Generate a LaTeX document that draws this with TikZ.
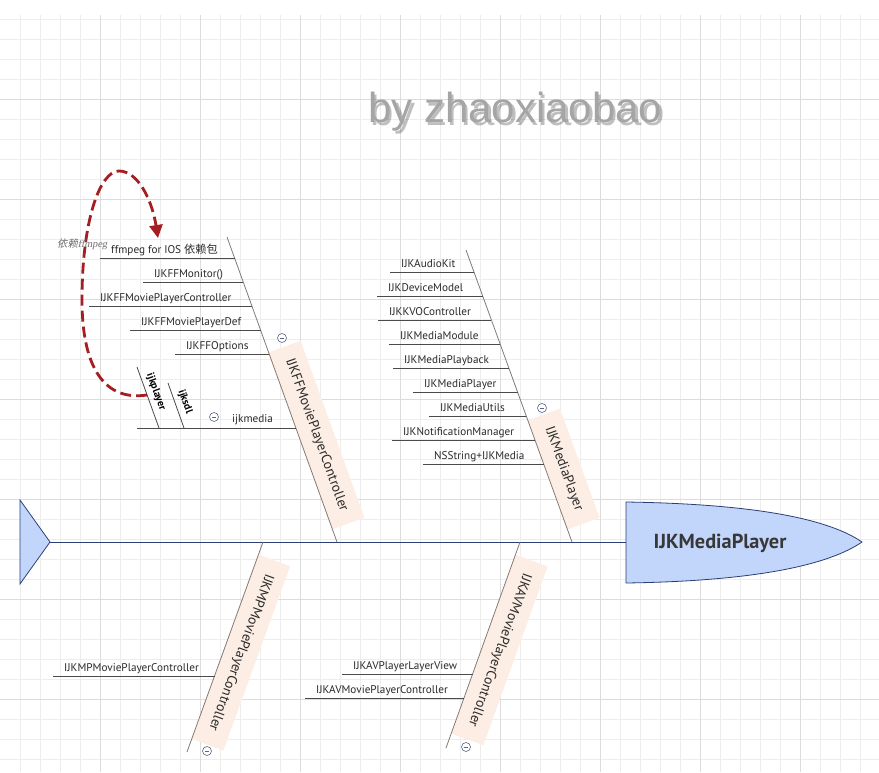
\documentclass[tikz,border=0pt]{standalone}
\usepackage{fontspec}
\setmainfont{PT Sans}
\newfontfamily\cjk{Noto Sans CJK SC}
\newfontfamily\cjksl[FakeSlant=0.2]{Noto Sans CJK SC}
\newfontfamily\wmfont{Liberation Sans}
\newfontfamily\serifit[FakeSlant=0.2]{Liberation Serif}
\usetikzlibrary{arrows.meta,calc}
\definecolor{gridminor}{HTML}{EDEDED}
\definecolor{gridmajor}{HTML}{DCDCDC}
\definecolor{navy}{HTML}{2B3F73}
\definecolor{fishblue}{HTML}{C2D5FB}
\definecolor{peach}{HTML}{FCEEE4}
\definecolor{bone}{HTML}{857A74}
\definecolor{subgray}{HTML}{4A4A4A}
\definecolor{depred}{HTML}{A51E22}
\definecolor{txt}{HTML}{2A2A2A}
\definecolor{iconc}{HTML}{5A6585}
\tikzset{
  gridline/.style={gridminor, line width=1pt},
  gridmaj/.style={gridmajor, line width=1pt},
  boneline/.style={bone, line width=0.8pt},
  subline/.style={subgray, line width=0.8pt},
  sublabel/.style={anchor=base west, inner sep=0pt, text=txt, font=\fontsize{11.2}{12}\selectfont},
  bonebox/.style={fill=peach, minimum height=34, inner sep=0pt, text=txt, font=\fontsize{13.8}{15}\selectfont},
  minusicon/.style={circle, draw=iconc, fill=white, minimum size=9, inner sep=0pt, line width=0.6pt,
    path picture={\draw[iconc, line width=0.6pt] ([xshift=-2.3pt]path picture bounding box.center) -- ([xshift=2.3pt]path picture bounding box.center);}},
  sublabelbold/.style={inner sep=0pt, text=black, font=\bfseries\fontsize{10.5}{12}\selectfont},
  depend/.style={depred, line width=2.8pt, dash pattern=on 11pt off 5pt, -{Triangle[length=13pt,width=13pt]}},
  wmstyle/.style={anchor=base west, inner sep=0pt, font=\wmfont\fontsize{42}{42}\selectfont},
}
\newcommand\subbr[5]{%
  \coordinate (#1s) at (#2,#3);
  \coordinate (#1e) at (#4,#3);
  \draw[subline] (#1s) -- (#1e);
  \node[sublabel] (#1) at ($(#1s)+(11,-5)$) {#5};
}
\begin{document}
\begin{tikzpicture}[x=1pt,y=-1pt]
\useasboundingbox (0,0) rectangle (879,772);
\fill[white] (0,0) rectangle (879,772);
% grid
\foreach \x in {20,40,...,860} \draw[gridline] (\x,15) -- (\x,772);
\foreach \y in {19,39,...,759} \draw[gridline] (0,\y) -- (879,\y);
\foreach \x in {100,200,...,800} \draw[gridmaj] (\x,15) -- (\x,772);
\foreach \y in {99,199,...,699} \draw[gridmaj] (0,\y) -- (879,\y);

% watermark with soft shadow
\node[wmstyle, text=black, opacity=0.25] (wmshadow) at (370.5,125) {by zhaoxiaobao};
\node[wmstyle, text={rgb,255:red,165;green,165;blue,165}] (wm) at (368,122) {by zhaoxiaobao};

% tail and head
\coordinate (tailtip) at (50,542);
\coordinate (headL) at (626,542);
\draw[navy, fill=fishblue, line width=0.8pt] (20,500) -- (tailtip) -- (20,584) -- cycle;
\draw[navy, line width=1pt] (tailtip) -- (headL);
\draw[navy, fill=fishblue, line width=0.8pt] (626,502) .. controls (760,504) and (830,520) .. (862,542)
  .. controls (830,564) and (760,581) .. (626,583) -- cycle;
\node[inner sep=0pt, text={rgb,255:red,56;green,56;blue,56}, font=\bfseries\fontsize{20.3}{22}\selectfont] (head) at (720,543) {IJKMediaPlayer};

% ===== IJKFFMoviePlayerController branch
\coordinate (ffA) at (227,237);
\coordinate (ffB) at (337,542);
\node[bonebox, rotate=-70.2, minimum width=188] (ffbox) at (316.5,435) {IJKFFMoviePlayerController};
\draw[boneline] (ffA) -- (ffB);
\node[minusicon] (ffmin) at (282,338) {};
\subbr{ffa}{100}{258}{234.6}{ffmpeg for IOS {\cjk 依赖包}}
\subbr{ffb}{143}{282}{243.2}{IJKFFMonitor()}
\subbr{ffc}{89}{306}{251.9}{IJKFFMoviePlayerController}
\subbr{ffd}{130}{330}{260.5}{IJKFFMoviePlayerDef}
\subbr{ffe}{175}{354}{269.2}{IJKFFOptions}
% ijkmedia
\coordinate (ijkms) at (137,428);
\coordinate (ijkme) at (295.9,428);
\draw[subline] (ijkms) -- (ijkme);
\node[sublabel] (ijkmedia) at (232,422) {ijkmedia};
\node[minusicon] (ijkmin) at (214,417) {};
\coordinate (plA) at (137,367);
\coordinate (plB) at (159,428);
\draw[subline] (plA) -- (plB);
\node[sublabelbold, rotate=-70] (ijkplayer) at (156,392) {ijkplayer};
\coordinate (sdA) at (168,383);
\coordinate (sdB) at (184,428);
\draw[subline] (sdA) -- (sdB);
\node[sublabelbold, rotate=-70] (ijksdl) at (185,402) {ijksdl};

% dependency arrow
\coordinate (depS) at (147,395);
\coordinate (depE) at (158,238);
\draw[depend] (depS) .. controls (100,402) and (82,360) .. (82,300)
  .. controls (82,220) and (100,171) .. (119,171)
  .. controls (138,171) and (152,200) .. (depE);
\node[anchor=base west, inner sep=0pt, text={rgb,255:red,110;green,110;blue,110}, font=\fontsize{10.3}{11}\selectfont] (deplabel) at (57,247) {{\cjksl 依赖}{\serifit ffmpeg}};

% ===== IJKMediaPlayer branch
\coordinate (mlA) at (466,250);
\coordinate (mlB) at (572,542);
\node[bonebox, rotate=-70.05, minimum width=116] (mlbox) at (563.8,469) {IJKMediaPlayer};
\draw[boneline] (mlA) -- (mlB);
\node[minusicon] (mlmin) at (542,408) {};
\subbr{mla}{390}{272}{474.0}{IJKAudioKit}
\subbr{mlb}{377}{296}{482.7}{IJKDeviceModel}
\subbr{mlc}{378}{320}{491.4}{IJKKVOController}
\subbr{mld}{389}{344}{500.1}{IJKMediaModule}
\subbr{mle}{393}{368}{508.8}{IJKMediaPlayback}
\subbr{mlf}{413}{392}{517.5}{IJKMediaPlayer}
\subbr{mlg}{429}{416}{526.3}{IJKMediaUtils}
\subbr{mlh}{392}{440}{535.0}{IJKNotificationManager}
\subbr{mli}{423}{464}{543.7}{NSString+IJKMedia}

% ===== IJKMPMoviePlayerController branch
\coordinate (mpA) at (263,542);
\coordinate (mpB) at (187,752);
\node[bonebox, rotate=-109.9, minimum width=196] (mpbox) at (240.8,652.5) {IJKMPMoviePlayerController};
\draw[boneline] (mpA) -- (mpB);
\node[minusicon] (mpmin) at (207,751) {};
\subbr{mpa}{53}{676}{214.5}{IJKMPMoviePlayerController}

% ===== IJKAVMoviePlayerController branch
\coordinate (avA) at (520,542);
\coordinate (avB) at (446,748);
\node[bonebox, rotate=-109.76, minimum width=190] (avbox) at (499.5,650) {IJKAVMoviePlayerController};
\draw[boneline] (avA) -- (avB);
\node[minusicon] (avmin) at (466,747) {};
\subbr{ava}{342}{674}{472.6}{IJKAVPlayerLayerView}
\subbr{avb}{305}{698}{464.0}{IJKAVMoviePlayerController}
\end{tikzpicture}
\end{document}
